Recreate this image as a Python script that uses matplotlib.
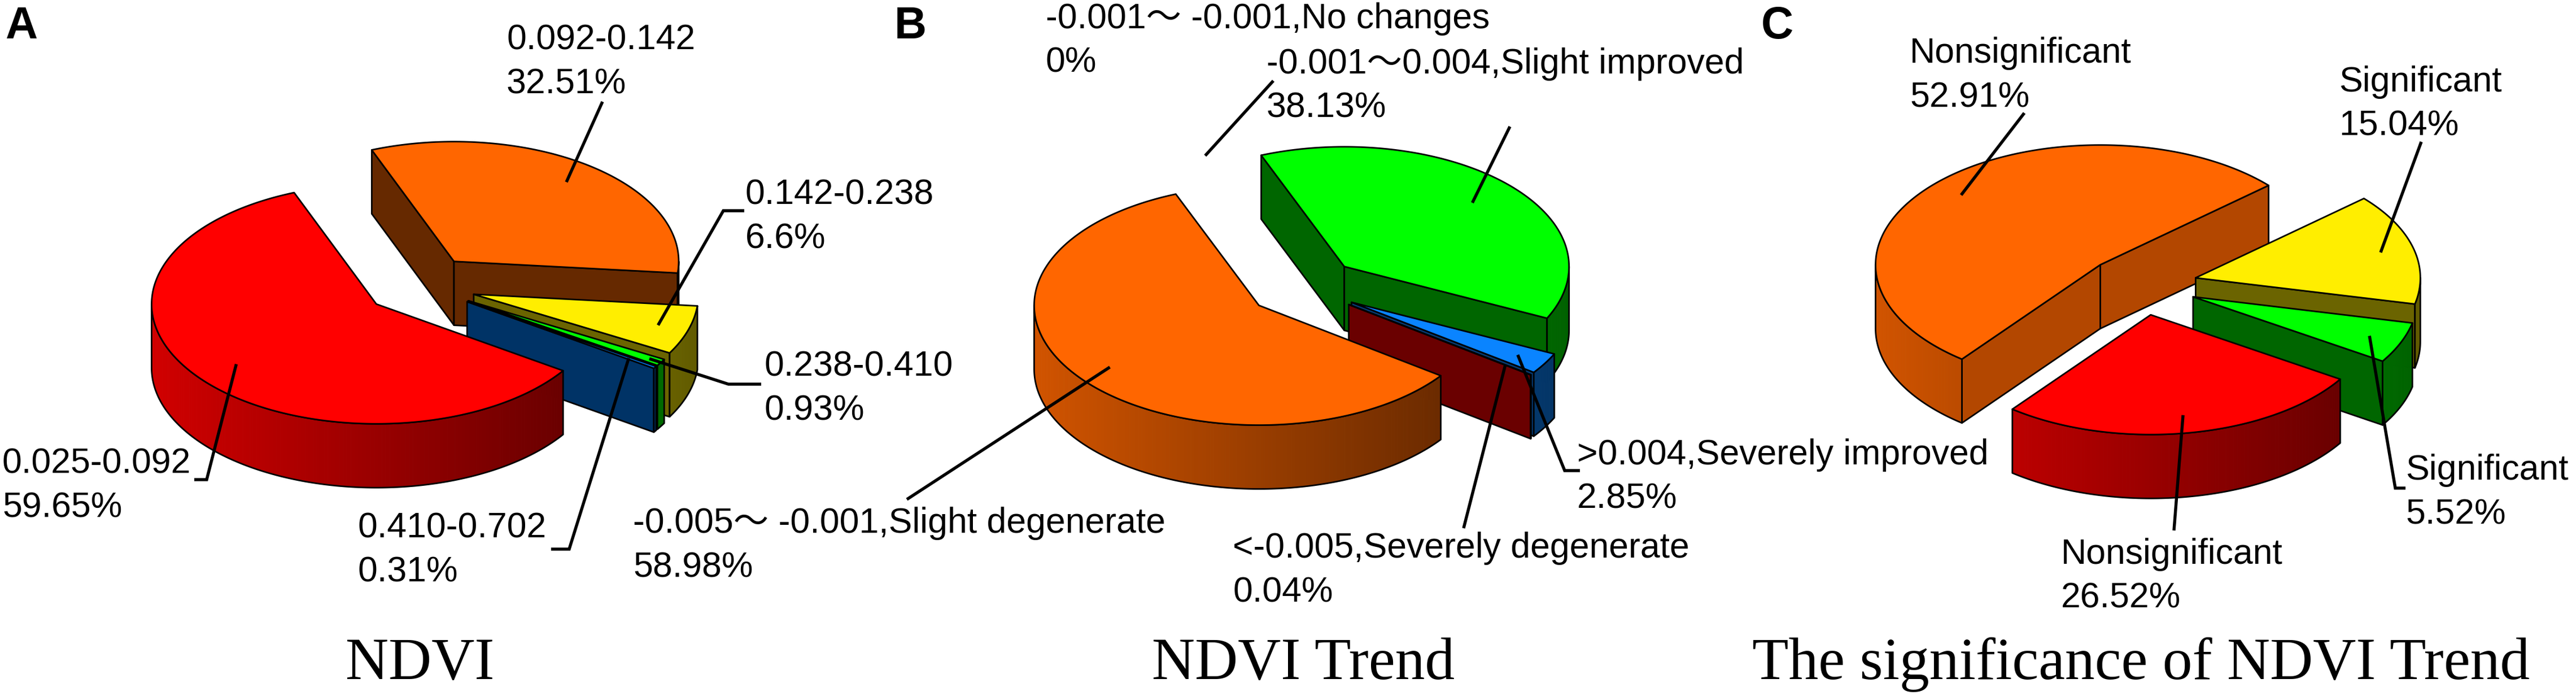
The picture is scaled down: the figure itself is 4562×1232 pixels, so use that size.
import numpy as np
import matplotlib
matplotlib.use("Agg")
import matplotlib.pyplot as plt
from matplotlib.patches import Polygon
from matplotlib.colors import to_rgb

# ---------------- data ----------------
ndvi_classes = ["0.025-0.092", "0.092-0.142", "0.142-0.238", "0.238-0.410", "0.410-0.702"]
ndvi_pct = [59.65, 32.51, 6.6, 0.93, 0.31]

trend_classes = ["-0.001\uff5e -0.001,No changes", "-0.001\uff5e0.004,Slight improved",
                 ">0.004,Severely improved", "<-0.005,Severely degenerate",
                 "-0.005\uff5e -0.001,Slight degenerate"]
trend_pct = [0, 38.13, 2.85, 0.04, 58.98]

sig_classes = ["Nonsignificant", "Significant", "Significant", "Nonsignificant"]
sig_pct = [52.91, 15.04, 5.52, 26.52]

panel_titles = ["NDVI", "NDVI Trend", "The significance of NDVI Trend"]
panel_tags = ["A", "B", "C"]

# ---------------- style ----------------
ndvi_colors = ["#FF0000", "#FF6600", "#FFEE00", "#00FF00", "#0077EE"]
trend_colors = ["#FFFFFF", "#00FF00", "#0A84FF", "#CC0000", "#FF6600"]
sig_colors = ["#FF6600", "#FFEE00", "#00FF00", "#FF0000"]
ndvi_wall = [0.4, 0.4, 0.42, 0.4, 0.43]
trend_wall = [0.4, 0.4, 0.45, 0.52, 0.4]
sig_wall = [0.7, 0.42, 0.4, 0.4]

W, H = 4562, 1232
RX, RY, DEPTH, EXPLODE = 398, 212, 113, 0.25
LW_EDGE = 2.0
LW_LEAD = 3.9
LABEL_FONT = ["Liberation Sans", "Noto Sans CJK SC", "DejaVu Sans"]
LABEL_SIZE = 45
LINE_GAP = 78

# layout: pie centres, start angle (first slice, clockwise), label placement
pies = [
    dict(cx=744, cy=505, start=326.2, pct=ndvi_pct, names=ndvi_classes, colors=ndvi_colors, wall=ndvi_wall,
         labels=[(4, 916, 0.80, [(366, 849), (344, 849)]),
                 (897, 165, 0.83, [(1067, 180)]),
                 (1320, 440, 0.86, [(1281, 373), (1318, 373)]),
                 (1353, 743, 0.94, [(1290, 680), (1348, 680)]),
                 (634, 1030, 0.86, [(1008, 972), (976, 972)])]),
    dict(cx=2308, cy=508, start=111.7, pct=trend_pct, names=trend_classes, colors=trend_colors, wall=trend_wall,
         labels=[(1852, 128, 0.93, [(2255, 143)]),
                 (2243, 208, 0.78, [(2674, 224)]),
                 (2793, 900, 0.86, [(2771, 833), (2798, 833)]),
                 (2183, 1065, 0.86, [(2592, 935)]),
                 (1121, 1021, 0.84, [(1606, 884)])]),
    dict(cx=3792, cy=505, start=232.0, pct=sig_pct, names=sig_classes, colors=sig_colors, wall=sig_wall,
         labels=[(3382, 189, 0.85, [(3585, 200)]),
                 (4142, 240, 0.85, [(4288, 251)]),
                 (4260, 927, 0.85, [(4242, 864), (4260, 864)]),
                 (3650, 1076, 0.85, [(3850, 939)])]),
]


def shade(c, f):
    r, g, b = to_rgb(c)
    return (r * f, g * f, b * f)


def side_factor(t):
    return 0.82 - 0.44 * (1 + np.cos(np.radians(t))) / 2


def rim(ox, oy, t, z=0.0):
    tr = np.radians(t)
    return (ox + RX * np.cos(tr), oy - RY * np.sin(tr) + z)


def draw_pie(ax, cx, cy, pct, start, colors, wall_f):
    total = float(sum(pct))
    info = []
    faces = []
    tops = []
    hi = start
    for i, v in enumerate(pct):
        span = 360.0 * v / total
        lo = hi - span
        mid = (lo + hi) / 2
        mr = np.radians(mid)
        ox = cx + EXPLODE * RX * np.cos(mr)
        oy = cy - EXPLODE * RY * np.sin(mr)
        info.append((ox, oy, mid))
        col = colors[i]
        if v > 0:
            # radial walls
            for a, vis in ((lo, np.cos(np.radians(lo)) > 0), (hi, np.cos(np.radians(hi)) < 0)):
                if vis:
                    p1 = rim(ox, oy, a)
                    pts = [(ox, oy), p1, (p1[0], p1[1] + DEPTH), (ox, oy + DEPTH)]
                    key = (oy + p1[1]) / 2
                    faces.append((key, "wall", pts, shade(col, wall_f[i])))
            # curved outer side (front half only)
            for k in range(-2, 2):
                f0, f1 = 180 + 360 * k, 360 + 360 * k
                t0, t1 = max(lo, f0), min(hi, f1)
                if t1 - t0 > 1e-6:
                    ts = np.linspace(t0, t1, max(2, int(np.ceil((t1 - t0) / 1.0)) + 1))
                    key = max(oy - RY * np.sin(np.radians(t)) for t in ts)
                    faces.append((key, "side", (ox, oy, ts), col))
            # top
            ts = np.linspace(lo, hi, max(2, int(np.ceil(span / 1.0)) + 1))
            pts = [(ox, oy)] + [rim(ox, oy, t) for t in ts]
            key = oy - 0.5 * RY * np.sin(mr)
            tops.append((key, pts, col))
        hi = lo

    z = 2.0
    for key, kind, data, col in sorted(faces, key=lambda f: f[0]):
        if kind == "wall":
            ax.add_patch(Polygon(data, closed=True, facecolor=col, edgecolor="black",
                                 linewidth=LW_EDGE, joinstyle="round", zorder=z))
        else:
            ox, oy, ts = data
            for ta, tb in zip(ts[:-1], ts[1:]):
                c = shade(col, side_factor((ta + tb) / 2))
                q = [rim(ox, oy, ta), rim(ox, oy, tb), rim(ox, oy, tb, DEPTH), rim(ox, oy, ta, DEPTH)]
                ax.add_patch(Polygon(q, closed=True, facecolor=c, edgecolor=c, linewidth=0.8, zorder=z))
            outline = [rim(ox, oy, t) for t in ts] + [rim(ox, oy, t, DEPTH) for t in ts[::-1]]
            ax.add_patch(Polygon(outline, closed=True, facecolor="none", edgecolor="black",
                                 linewidth=LW_EDGE, joinstyle="round", zorder=z + 0.01))
        z += 0.05
    for key, pts, col in sorted(tops, key=lambda f: f[0]):
        ax.add_patch(Polygon(pts, closed=True, facecolor=col, edgecolor="black",
                             linewidth=LW_EDGE, joinstyle="round", zorder=z))
        z += 0.05
    return info


fig = plt.figure(figsize=(W / 100, H / 100), dpi=100)
ax = fig.add_axes([0, 0, 1, 1])
ax.set_xlim(0, W)
ax.set_ylim(H, 0)
ax.axis("off")

for p, title, tag, tagx in zip(pies, panel_titles, panel_tags, [9, 1584, 3119]):
    info = draw_pie(ax, p["cx"], p["cy"], p["pct"], p["start"], p["colors"], p["wall"])
    for (tx, ty2, frac, path), name, v, (ox, oy, mid) in zip(p["labels"], p["names"], p["pct"], info):
        mr = np.radians(mid)
        anchor = (ox + frac * RX * np.cos(mr), oy - frac * RY * np.sin(mr))
        xs = [anchor[0]] + [q[0] for q in path]
        ys = [anchor[1]] + [q[1] for q in path]
        ax.plot(xs, ys, color="black", lw=LW_LEAD, solid_capstyle="butt",
                solid_joinstyle="miter", zorder=50)
        ax.text(tx, ty2 - LINE_GAP, name, family=LABEL_FONT, fontsize=LABEL_SIZE,
                ha="left", va="baseline", zorder=60)
        ax.text(tx, ty2, f"{v:g}%", family=LABEL_FONT, fontsize=LABEL_SIZE,
                ha="left", va="baseline", zorder=60)
    ax.text(p["cx"], 1202, title, family=["Liberation Serif", "DejaVu Serif"], fontsize=76,
            ha="center", va="baseline", zorder=60)
    ax.text(tagx, 68, tag, family=["Liberation Sans", "DejaVu Sans"], fontsize=57,
            fontweight="bold", ha="left", va="baseline", zorder=60)

fig.savefig("out.png", dpi=100, facecolor="white")
